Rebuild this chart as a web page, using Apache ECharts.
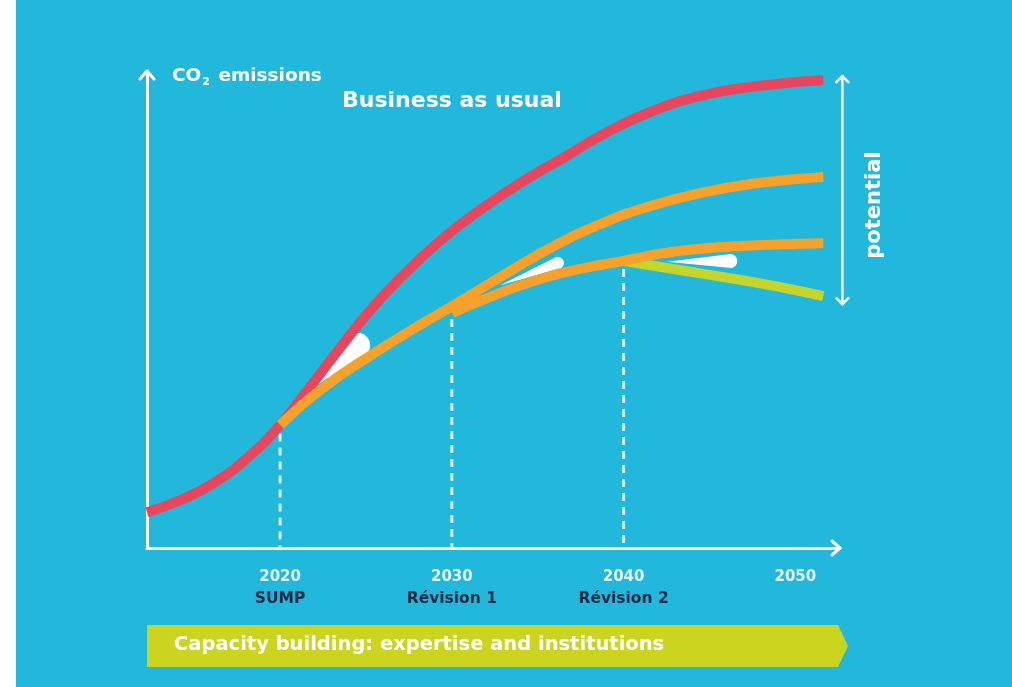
<!DOCTYPE html>
<html><head><meta charset="utf-8">
<script src="https://cdn.jsdelivr.net/npm/echarts@6/dist/echarts.min.js"></script>
<style>html,body{margin:0;padding:0;background:#fff;}#main{width:1012px;height:687px;}</style>
</head><body><div id="main"></div>
<script>
// ---- data (years on x, relative CO2 emissions on y, 0..100) ----
const redYears   = [2012.25, 2014.17, 2016.21, 2018.25, 2020, 2021.75, 2023.50, 2025.24, 2026.99, 2029.32, 2031.65, 2033.98, 2036.49, 2039.05, 2041.55, 2044.47, 2047.96, 2051.63];
const redValues  = [7.5, 10.0, 13.8, 19.4, 25.8, 33.8, 42.0, 49.8, 56.6, 64.4, 70.9, 76.5, 81.8, 87.2, 91.4, 94.8, 96.9, 98.1];

const sumpYears  = [2020, 2022.33, 2025.24, 2028.16, 2030.02, 2032.82, 2035.73, 2038.64, 2041.55, 2044.47, 2047.38, 2050.29, 2051.63];
const sumpValues = [25.8, 33.1, 40.3, 46.8, 50.7, 56.8, 62.9, 67.9, 71.7, 74.4, 76.3, 77.4, 77.8];

const rev1Years  = [2030.02, 2032.82, 2035.15, 2037.48, 2039.98, 2042.89, 2046.80, 2051.63];
const rev1Values = [49.3, 53.5, 56.4, 58.5, 60.2, 62.1, 63.3, 63.9];

const rev2Years  = [2039.98, 2042.89, 2046.80, 2049.13, 2051.63];
const rev2Values = [60.2, 58.5, 56.2, 54.7, 52.8];

const tickYears       = [2020, 2030, 2040, 2050];
const milestoneNames  = ['SUMP', 'Révision 1', 'Révision 2', ''];
const milestoneYears  = [2020, 2030, 2040];
const milestoneTops   = [24.0, 48.0, 58.5];

// angle markers between diverging paths: tip, end on upper path, end on lower path
const wedgeTip   = [[2022.16, 34.2], [2032.82, 55.1], [2042.54, 60.0]];
const wedgeUpper = [[2024.08, 44.6], [2035.97, 60.8], [2046.15, 61.6]];
const wedgeLower = [[2024.95, 40.4], [2036.37, 58.7], [2046.27, 58.7]];

const texts = {
  yTitle: 'CO{sub|2} emissions',
  bau: 'Business as usual',
  potential: 'potential',
  capacity: 'Capacity building: expertise and institutions'
};

const zip = (xs, ys) => xs.map((x, i) => [x, ys[i]]);

const RED = '#e9465e', ORANGE = '#f5a12b', GREEN = '#c4d52c', BG = '#21b8db';
const FONT = '"DejaVu Sans"';
const chart = echarts.init(document.getElementById('main'));

function lineSeries(name, xs, ys, color, z) {
  return { name, type: 'line', data: zip(xs, ys), smooth: 0.5, symbol: 'none', z,
    lineStyle: { color, width: 10, cap: 'butt' }, silent: true };
}

const dashSeries = milestoneYears.map((y, i) => ({
  type: 'line', data: [[y, milestoneTops[i]], [y, 0]], symbol: 'none', z: 1, silent: true,
  lineStyle: { color: '#d6eff7', width: 3, type: [8, 6] }
}));

function wedgeItem(params, api) {
  const c = api.coord([api.value(0), api.value(1)]);
  const u = api.coord([api.value(2), api.value(3)]);
  const l = api.coord([api.value(4), api.value(5)]);
  const m = [(u[0] + l[0]) / 2, (u[1] + l[1]) / 2];
  const rr = Math.hypot(u[0] - l[0], u[1] - l[1]) / 2;
  const a0 = Math.atan2(u[1] - m[1], u[0] - m[0]);
  const build = dir => {
    const pts = [];
    for (let k = 0; k <= 16; k++) {
      const a = a0 + dir * Math.PI * k / 16;
      pts.push([m[0] + rr * Math.cos(a), m[1] + rr * Math.sin(a)]);
    }
    return pts;
  };
  let arc = build(1);
  const alt = build(-1);
  if (Math.hypot(alt[8][0] - c[0], alt[8][1] - c[1]) > Math.hypot(arc[8][0] - c[0], arc[8][1] - c[1])) arc = alt;
  return { type: 'polygon', shape: { points: [c].concat(arc) }, style: { fill: '#ffffff' } };
}

const option = {
  backgroundColor: BG,
  animation: false,
  grid: { left: 147, right: 172, top: 71, bottom: 139 },
  xAxis: {
    type: 'value', min: 2012.25, max: 2052.6,
    splitLine: { show: false }, axisTick: { show: false },
    axisLine: { show: true, onZero: false, lineStyle: { color: '#fff', width: 3 } },
    axisLabel: {
      customValues: tickYears, margin: 18,
      formatter: v => {
        const i = tickYears.indexOf(v);
        const n = milestoneNames[i];
        return n ? '{y|' + v + '}\n{s|' + n + '}' : '{y|' + v + '}';
      },
      rich: {
        y: { fontFamily: 'DejaVu Sans', fontWeight: 'bold', fontSize: 15, color: '#e4f5fa', lineHeight: 22 },
        s: { fontFamily: 'DejaVu Sans', fontWeight: 'bold', fontSize: 15.5, color: '#1b2a48', lineHeight: 22 }
      }
    }
  },
  yAxis: {
    type: 'value', min: 0, max: 100,
    splitLine: { show: false }, axisTick: { show: false }, axisLabel: { show: false },
    axisLine: { show: true, onZero: false, lineStyle: { color: '#fff', width: 3 } }
  },
  series: [
    ...dashSeries,
    {
      type: 'custom', z: 1, silent: true, clip: false,
      data: wedgeTip.map((t, i) => [t[0], t[1], wedgeUpper[i][0], wedgeUpper[i][1], wedgeLower[i][0], wedgeLower[i][1]]),
      encode: { x: [0, 2, 4], y: [1, 3, 5] },
      renderItem: wedgeItem
    },
    lineSeries('Business as usual', redYears, redValues, RED, 2),
    lineSeries('Révision 2', rev2Years, rev2Values, GREEN, 3),
    lineSeries('Révision 1', rev1Years, rev1Values, ORANGE, 4),
    lineSeries('SUMP', sumpYears, sumpValues, ORANGE, 5)
  ]
};
chart.setOption(option);

const px = p => chart.convertToPixel({ gridIndex: 0 }, p);
const yTop = px([2012.25, 100]);
const xEnd = px([2052.6, 0]);
const redEnd = px([redYears[redYears.length - 1], redValues[redValues.length - 1]]);
const greenEnd = px([rev2Years[rev2Years.length - 1], rev2Values[rev2Values.length - 1]]);
const ax = redEnd[0] + 19, ay1 = redEnd[1] - 4, ay2 = greenEnd[1] + 8;
const white = { stroke: '#fff', fill: null, lineCap: 'round', lineJoin: 'round' };

chart.setOption({
  graphic: [
    { type: 'rect', z: 100, shape: { x: 0, y: 0, width: 16, height: 687 }, style: { fill: '#fff' } },
    { type: 'polyline', z: 10, shape: { points: [[yTop[0] - 7, yTop[1] + 8], [yTop[0], yTop[1]], [yTop[0] + 7, yTop[1] + 8]] }, style: Object.assign({ lineWidth: 3 }, white) },
    { type: 'polyline', z: 10, shape: { points: [[xEnd[0] - 8, xEnd[1] - 7], [xEnd[0], xEnd[1]], [xEnd[0] - 8, xEnd[1] + 7]] }, style: Object.assign({ lineWidth: 3 }, white) },
    { type: 'line', z: 10, shape: { x1: ax, y1: ay1, x2: ax, y2: ay2 }, style: Object.assign({ lineWidth: 2.5 }, white) },
    { type: 'polyline', z: 10, shape: { points: [[ax - 6, ay1 + 6], [ax, ay1], [ax + 6, ay1 + 6]] }, style: Object.assign({ lineWidth: 2.5 }, white) },
    { type: 'polyline', z: 10, shape: { points: [[ax - 6, ay2 - 6], [ax, ay2], [ax + 6, ay2 - 6]] }, style: Object.assign({ lineWidth: 2.5 }, white) },
    { type: 'text', z: 10, x: ax + 32, y: (ay1 + ay2) / 2 + 15, rotation: Math.PI / 2,
      style: { text: texts.potential, fill: '#fff', font: 'bold 21px ' + FONT, textAlign: 'center', textVerticalAlign: 'middle' } },
    { type: 'text', z: 10, x: 172, y: 76,
      style: { text: texts.yTitle, fill: '#fff', font: 'bold 18.5px ' + FONT, textVerticalAlign: 'middle',
        rich: { sub: { fontSize: 11, fontWeight: 'bold', fontFamily: 'DejaVu Sans', fill: '#fff', padding: [12, 2, 0, 1] } } } },
    { type: 'text', z: 10, x: 342, y: 101,
      style: { text: texts.bau, fill: '#fff', font: 'bold 22px ' + FONT, textVerticalAlign: 'middle' } },
    { type: 'polygon', z: 10, shape: { points: [[147, 625], [838, 625], [848, 646], [838, 667], [147, 667]] }, style: { fill: '#cbd520' } },
    { type: 'text', z: 11, x: 174, y: 645,
      style: { text: texts.capacity, fill: '#fff', font: 'bold 19.5px ' + FONT, textVerticalAlign: 'middle' } }
  ]
});
</script>
</body></html>
